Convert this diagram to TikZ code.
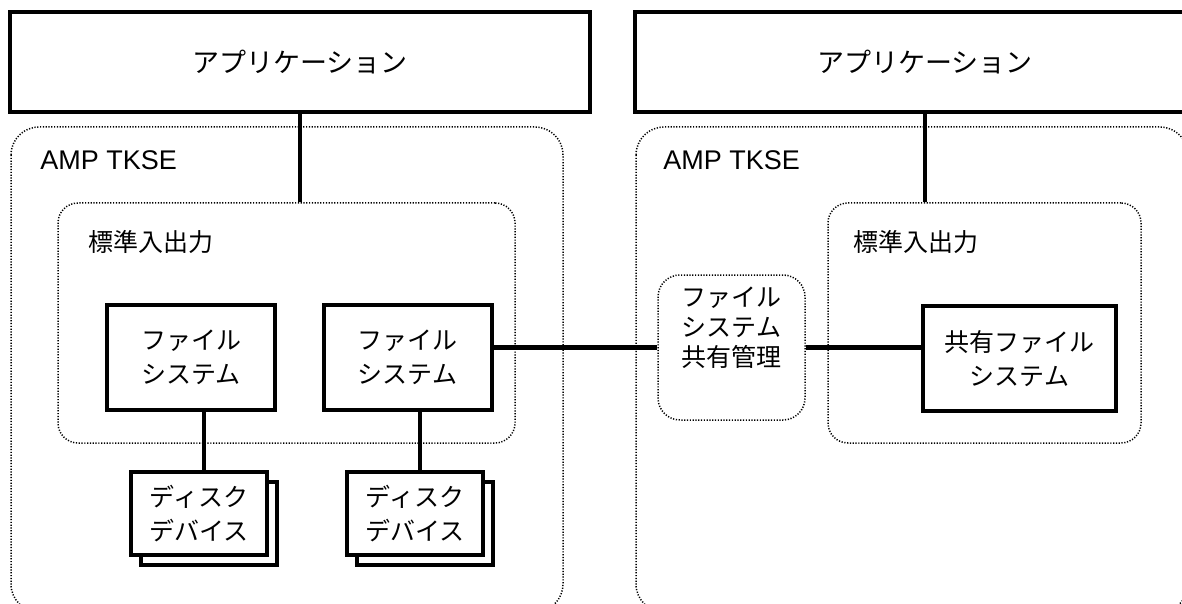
\documentclass[tikz,border=0pt]{standalone}
\usepackage{fontspec}
\setmainfont{Liberation Sans}
\newfontfamily\jp{Noto Sans CJK JP}
\usepackage{tikz}
\usetikzlibrary{shadows}

\begin{document}
\begin{tikzpicture}[x=0.5pt, y=-0.5pt,
  every node/.style = {align=center, inner sep=0pt},
  box/.style = {draw, line width=2pt, fill=white,
    font=\jp\fontsize{12.5}{17}\selectfont},
  appbox/.style = {box, minimum width=290pt, minimum height=50pt,
    font=\jp\fontsize{13.5}{17}\selectfont},
  fsbox/.style = {box, minimum width=84pt, minimum height=52.5pt},
  disk/.style = {box, minimum width=68pt, minimum height=41.5pt,
    copy shadow={shadow xshift=5pt, shadow yshift=-5pt, draw=black, line width=2pt}},
  area/.style = {draw, line width=0.75pt,
    dash pattern=on 0.6pt off 0.8pt, rounded corners=#1},
  link/.style = {line width=2.4pt},
  tag/.style = {anchor=west, font=\fontsize{13.5}{16}\selectfont},
  jptag/.style = {anchor=west, font=\jp\fontsize{12.5}{16}\selectfont}]
  \useasboundingbox (0,0) rectangle (1182,604);

  \draw[area=14pt] (11,127) rectangle (563,612);
  \draw[area=14pt] (636,127) rectangle (1188,612);
  \node[tag] (ampL) at (40,160) {AMP TKSE};
  \node[tag] (ampR) at (663,160) {AMP TKSE};

  \node[appbox] (appL) at (300,62) {アプリケーション};
  \node[appbox] (appR) at (925,62) {アプリケーション};

  \node[area=10pt, minimum width=228.5pt, minimum height=120pt] (ioL) at (286.5,323) {};
  \node[area=10pt, minimum width=156.5pt, minimum height=120pt] (ioR) at (984.5,323) {};
  \node[jptag] (stdL) at (88,242) {標準入出力};
  \node[jptag] (stdR) at (853,242) {標準入出力};

  \node[fsbox] (fs1) at (191,357.5) {ファイル\\システム};
  \node[fsbox] (fs2) at (407.5,357.5) {ファイル\\システム};
  \node[disk] (dsk1) at (199,513.5) {ディスク\\デバイス};
  \node[disk] (dsk2) at (415,513.5) {ディスク\\デバイス};

  \node[area=11pt, minimum width=73.5pt, minimum height=72.5pt] (mgr) at (731.5,347.5) {};
  \node[font=\jp\fontsize{12.5}{15}\selectfont] (mgrtxt) at (731.5,328) {ファイル\\システム\\共有管理};
  \node[box, minimum width=96.5pt, minimum height=52.5pt] (shfs) at (1019.5,358.5) {共有ファイル\\システム};

  \draw[link] (appL.south) -- (appL.south |- ioL.north);
  \draw[link] (appR.south) -- (appR.south |- ioR.north);
  \draw[link] ([xshift=2.5pt]dsk1.north) -- ([xshift=2.5pt]dsk1.north |- fs1.south);
  \draw[link] ([xshift=2.5pt]dsk2.north) -- ([xshift=2.5pt]dsk2.north |- fs2.south);
  \draw[link] (fs2.east |- mgr.west) -- (mgr.west);
  \draw[link] (mgr.east) -- (shfs.west |- mgr.east);
\end{tikzpicture}
\end{document}
